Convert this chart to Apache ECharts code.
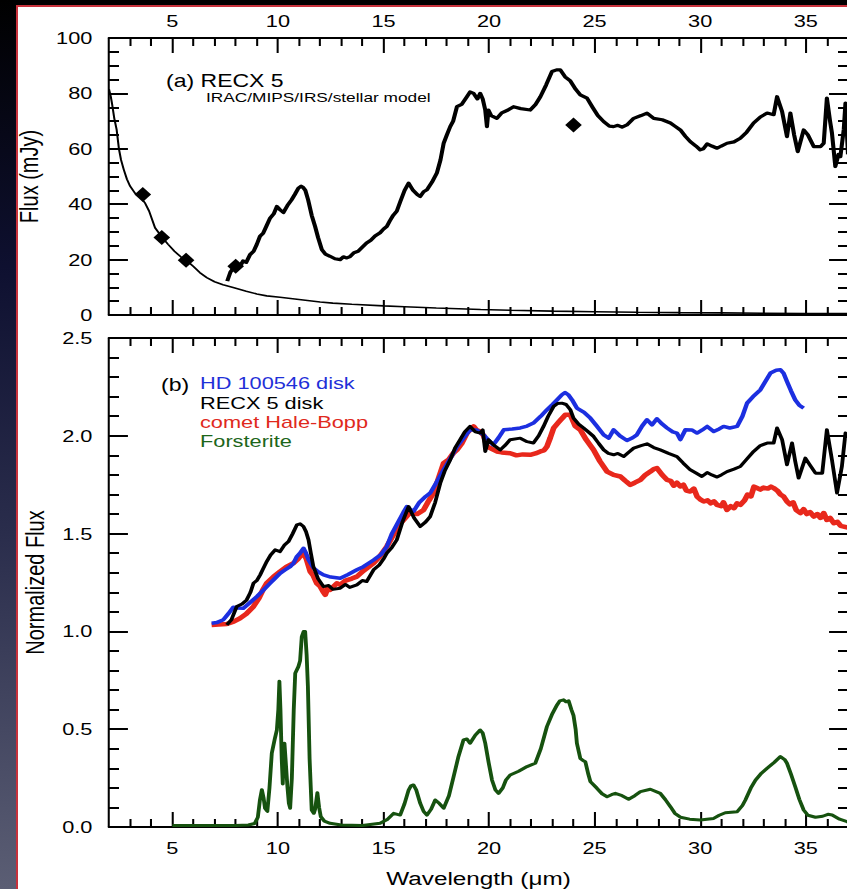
<!DOCTYPE html>
<html>
<head>
<meta charset="utf-8">
<script src="https://cdn.jsdelivr.net/npm/echarts@6.0.0/dist/echarts.min.js"></script>
<style>
html,body{margin:0;padding:0;background:#000;width:847px;height:889px;overflow:hidden;}
#strip{position:absolute;left:0;top:0;width:16px;height:889px;background:linear-gradient(to bottom,#000 0%,#0e1030 30%,#2a2d4c 60%,#5b5e74 100%);}
#panel{position:absolute;left:16px;top:5px;width:829px;height:882px;background:#fff;border-left:2px solid #c8323c;border-top:2px solid #c8323c;}
#chart{position:absolute;left:0;top:0;width:662px;height:889px;transform-origin:0 0;transform:scaleX(1.279456);}
</style>
</head>
<body>
<div id="strip"></div>
<div id="panel"></div>
<div id="chart"></div>
<script>
// ---- data (wavelength in micron) ----
const xMajorTicks = [5, 10, 15, 20, 25, 30, 35];
const xMinorTicks = [3, 4, 6, 7, 8, 9, 11, 12, 13, 14, 16, 17, 18, 19, 21, 22, 23, 24, 26, 27, 28, 29, 31, 32, 33, 34, 36];
const topYTicks = ['0', '20', '40', '60', '80', '100'];
const bottomYTicks = ['0.0', '0.5', '1.0', '1.5', '2.0', '2.5'];

const stellarModel = [[2.0,81.5],[2.08,79],[2.15,76],[2.25,71],[2.36,67],[2.47,60],[2.57,56],[2.7,52.5],[2.85,49],[3.0,46.5],[3.23,44],[3.5,42.5],[3.7,40.5],[3.9,37.5],[4.18,31.5],[4.5,28.2],[4.8,25.5],[5.1,23],[5.4,21],[5.65,19.8],[6.0,17.5],[6.3,15.3],[6.63,13.5],[7.0,12],[7.4,10.9],[7.88,9.9],[8.5,8.6],[9.0,7.6],[9.47,6.9],[10.1,6.4],[11,5.6],[12,4.7],[12.6,4.3],[13.5,3.9],[15,3.3],[16,3.0],[17.5,2.5],[19.6,2.0],[21,1.7],[23,1.4],[25,1.2],[27,1.0],[29,0.85],[31,0.75],[33,0.65],[35,0.55],[37,0.5]];

const recx5Flux = [[7.6,12.2],[7.75,15.5],[7.9,17],[8.05,18.2],[8.2,17.5],[8.35,19.5],[8.5,19],[8.68,21.8],[8.85,23],[9.0,25.5],[9.15,28.4],[9.3,29.5],[9.45,32],[9.63,35],[9.8,36.5],[9.95,39.2],[10.1,38],[10.26,37],[10.45,39.5],[10.65,41.6],[10.8,43.5],[10.97,45.8],[11.1,46.5],[11.2,46],[11.3,45],[11.43,41.6],[11.6,36],[11.76,32],[11.9,28],[12.08,23.6],[12.25,22],[12.47,21.2],[12.7,20.3],[12.95,20],[13.1,21],[13.26,20.6],[13.42,21.1],[13.6,22.5],[13.8,23],[14.04,24.8],[14.2,26],[14.4,27],[14.6,28.5],[14.84,29.7],[15.0,31],[15.16,32],[15.3,34],[15.46,36],[15.63,37.5],[15.8,41],[16.0,45],[16.19,47.6],[16.4,45],[16.6,43.5],[16.74,42.8],[16.9,44.5],[17.06,45.2],[17.3,48],[17.53,51.3],[17.7,56],[17.85,62],[18.0,65],[18.16,68],[18.3,70],[18.48,75.2],[18.7,76],[18.95,78.8],[19.1,80.5],[19.27,80],[19.45,78],[19.58,80],[19.7,78],[19.82,74],[19.9,68],[19.97,74],[20.1,72],[20.37,71],[20.6,73],[20.9,74],[21.16,75.2],[21.5,74.5],[21.95,74],[22.2,76],[22.43,78.8],[22.7,83],[22.98,87.9],[23.2,88.5],[23.37,88.5],[23.6,86],[23.85,84.5],[24.1,81.5],[24.32,79.5],[24.64,78.3],[24.9,75],[25.15,72],[25.43,69.8],[25.7,68.2],[25.9,68],[26.1,68.5],[26.3,67.8],[26.53,68.6],[26.85,71],[27.2,72],[27.48,72.9],[27.8,71],[28.2,70.5],[28.59,69.3],[28.8,68.2],[29.06,66.8],[29.3,64.5],[29.53,62.6],[29.8,61],[30.0,59.6],[30.15,60],[30.33,61.8],[30.55,61],[30.8,60.2],[31.0,61],[31.27,62],[31.6,62.5],[31.9,63.8],[32.2,66],[32.53,69.3],[32.85,71.5],[33.17,72.9],[33.48,72.3],[33.64,78.8],[33.88,73.4],[34.11,64.4],[34.27,72.9],[34.45,65],[34.62,59],[34.9,66.8],[35.1,65],[35.38,60.8],[35.7,60.8],[35.85,62],[36.0,78.3],[36.15,70],[36.24,65.7],[36.4,53.6],[36.55,58],[36.64,57.2],[36.8,67],[36.88,76.5],[37.0,58]];

const photometry = [[3.6,43.5],[4.5,28],[5.65,19.8],[8.0,17.6],[24.0,68.6]];

const hd100546Disk = [[6.86,1.042],[7.1,1.045],[7.42,1.06],[7.65,1.09],[7.89,1.124],[8.1,1.12],[8.36,1.118],[8.6,1.14],[9.0,1.178],[9.3,1.21],[9.63,1.246],[9.85,1.27],[10.1,1.297],[10.35,1.315],[10.58,1.331],[10.75,1.35],[10.9,1.383],[11.05,1.4],[11.21,1.425],[11.33,1.4],[11.45,1.366],[11.68,1.325],[11.9,1.305],[12.16,1.289],[12.5,1.278],[12.95,1.272],[13.3,1.29],[13.74,1.315],[14.05,1.331],[14.53,1.365],[14.9,1.395],[15.16,1.434],[15.4,1.5],[15.7,1.56],[15.95,1.61],[16.11,1.638],[16.25,1.625],[16.42,1.613],[16.7,1.66],[17.0,1.69],[17.21,1.707],[17.5,1.76],[17.85,1.826],[18.2,1.89],[18.48,1.945],[18.8,1.99],[19.1,2.031],[19.4,2.03],[19.74,2.005],[20.0,1.975],[20.2,1.954],[20.45,1.99],[20.7,2.031],[21.1,2.035],[21.48,2.04],[21.8,2.05],[22.1,2.065],[22.45,2.1],[22.74,2.133],[23.0,2.16],[23.22,2.184],[23.45,2.21],[23.6,2.221],[23.75,2.21],[23.93,2.184],[24.16,2.142],[24.5,2.12],[24.8,2.09],[25.1,2.05],[25.43,2.005],[25.67,1.988],[25.9,2.031],[26.2,2.0],[26.53,1.976],[26.8,1.99],[27.0,2.005],[27.25,2.05],[27.48,2.082],[27.72,2.056],[27.95,2.087],[28.2,2.06],[28.43,2.04],[28.7,2.02],[28.9,2.014],[29.06,1.98],[29.3,2.031],[29.6,2.03],[29.85,2.014],[30.1,2.03],[30.33,2.048],[30.64,2.022],[30.9,2.035],[31.11,2.048],[31.4,2.04],[31.75,2.048],[32.0,2.1],[32.22,2.167],[32.5,2.2],[32.85,2.235],[33.1,2.28],[33.33,2.321],[33.6,2.335],[33.8,2.338],[33.95,2.32],[34.11,2.278],[34.3,2.23],[34.5,2.184],[34.7,2.155],[34.9,2.142]];

const recx5Disk = [[7.58,1.033],[7.8,1.06],[8.05,1.127],[8.3,1.14],[8.52,1.161],[8.7,1.2],[8.84,1.246],[9.0,1.26],[9.16,1.289],[9.3,1.32],[9.47,1.357],[9.65,1.39],[9.87,1.417],[10.1,1.408],[10.3,1.44],[10.5,1.459],[10.7,1.5],[10.9,1.545],[11.05,1.55],[11.21,1.536],[11.33,1.51],[11.45,1.468],[11.56,1.4],[11.68,1.331],[11.9,1.27],[12.16,1.229],[12.4,1.235],[12.6,1.215],[12.95,1.221],[13.2,1.24],[13.4,1.225],[13.74,1.238],[14.0,1.26],[14.2,1.255],[14.53,1.315],[14.8,1.34],[15.0,1.37],[15.16,1.4],[15.4,1.43],[15.63,1.468],[15.9,1.56],[16.19,1.638],[16.45,1.58],[16.74,1.536],[17.0,1.56],[17.21,1.587],[17.45,1.66],[17.69,1.758],[17.9,1.82],[18.16,1.877],[18.4,1.94],[18.63,1.98],[18.85,2.02],[19.1,2.048],[19.35,2.02],[19.58,2.014],[19.7,2.03],[19.82,1.92],[19.97,1.98],[20.25,1.95],[20.53,1.928],[20.75,1.95],[21.0,1.98],[21.48,1.988],[21.8,1.97],[22.1,1.963],[22.35,2.0],[22.58,2.048],[22.8,2.1],[23.06,2.15],[23.25,2.165],[23.45,2.167],[23.65,2.16],[23.85,2.133],[24.0,2.09],[24.24,2.06],[24.48,2.04],[24.7,2.02],[24.95,1.997],[25.2,1.96],[25.43,1.928],[25.65,1.91],[25.9,1.903],[26.1,1.91],[26.38,1.894],[26.6,1.915],[26.85,1.937],[27.2,1.95],[27.48,1.959],[27.8,1.94],[28.11,1.928],[28.5,1.91],[28.9,1.894],[29.2,1.86],[29.53,1.826],[29.8,1.81],[30.08,1.792],[30.33,1.812],[30.55,1.8],[30.8,1.789],[31.0,1.8],[31.27,1.817],[31.6,1.83],[31.9,1.843],[32.2,1.88],[32.53,1.92],[32.85,1.95],[33.17,1.963],[33.48,1.963],[33.64,2.04],[33.88,1.98],[34.11,1.852],[34.35,1.963],[34.5,1.87],[34.66,1.784],[34.98,1.886],[35.2,1.85],[35.46,1.809],[35.78,1.809],[36.0,2.031],[36.24,1.877],[36.48,1.707],[36.71,1.843],[36.88,2.014],[37.0,1.99]];

const haleBopp = [[6.86,1.033],[7.2,1.035],[7.58,1.038],[7.9,1.05],[8.2,1.067],[8.5,1.09],[8.84,1.127],[9.1,1.17],[9.3,1.215],[9.47,1.246],[9.8,1.28],[10.1,1.306],[10.4,1.33],[10.74,1.349],[10.95,1.37],[11.1,1.39],[11.21,1.4],[11.35,1.37],[11.53,1.306],[11.68,1.285],[11.84,1.246],[12.0,1.23],[12.16,1.2],[12.24,1.187],[12.35,1.22],[12.47,1.212],[12.79,1.246],[12.95,1.238],[13.2,1.26],[13.5,1.27],[13.74,1.28],[14.05,1.31],[14.3,1.33],[14.53,1.349],[14.8,1.38],[15.16,1.434],[15.5,1.5],[15.7,1.54],[15.95,1.57],[16.2,1.6],[16.42,1.605],[16.6,1.6],[16.9,1.621],[17.1,1.66],[17.37,1.707],[17.6,1.78],[17.85,1.86],[18.1,1.88],[18.3,1.91],[18.48,1.928],[18.7,1.96],[18.95,2.014],[19.1,2.03],[19.27,2.048],[19.4,2.03],[19.58,2.022],[19.75,2.0],[19.9,1.945],[20.1,1.935],[20.37,1.92],[20.6,1.915],[21.0,1.911],[21.3,1.9],[21.6,1.905],[21.95,1.903],[22.2,1.91],[22.43,1.92],[22.6,1.925],[22.74,1.945],[22.9,1.99],[23.06,2.04],[23.3,2.07],[23.61,2.107],[23.85,2.107],[24.08,2.05],[24.32,2.031],[24.6,1.98],[24.95,1.928],[25.25,1.87],[25.59,1.817],[25.9,1.8],[26.22,1.792],[26.45,1.77],[26.69,1.749],[26.9,1.76],[27.17,1.775],[27.4,1.8],[27.64,1.817],[27.8,1.83],[27.95,1.835],[28.2,1.8],[28.43,1.775],[28.6,1.77],[28.75,1.745],[28.9,1.76],[29.06,1.741],[29.2,1.75],[29.35,1.72],[29.53,1.715],[29.7,1.73],[29.85,1.69],[30.0,1.675],[30.17,1.664],[30.35,1.67],[30.5,1.655],[30.65,1.665],[30.8,1.647],[31.0,1.64],[31.1,1.66],[31.27,1.621],[31.45,1.64],[31.6,1.63],[31.75,1.655],[31.9,1.647],[32.1,1.67],[32.25,1.7],[32.4,1.69],[32.55,1.74],[32.69,1.733],[32.85,1.725],[33.0,1.735],[33.2,1.73],[33.35,1.74],[33.48,1.733],[33.65,1.72],[33.8,1.7],[33.95,1.69],[34.11,1.664],[34.25,1.65],[34.4,1.66],[34.55,1.62],[34.75,1.605],[34.9,1.625],[35.05,1.6],[35.2,1.61],[35.38,1.587],[35.55,1.6],[35.7,1.58],[35.85,1.605],[36.0,1.57],[36.15,1.58],[36.33,1.553],[36.5,1.56],[36.65,1.54],[36.8,1.536],[37.0,1.53]];

const forsterite = [[5.0,0.008],[6,0.008],[7,0.008],[8,0.008],[8.6,0.01],[8.9,0.018],[9.05,0.05],[9.15,0.14],[9.24,0.19],[9.32,0.15],[9.39,0.096],[9.5,0.08],[9.6,0.2],[9.71,0.377],[9.85,0.45],[9.95,0.496],[10.02,0.6],[10.07,0.745],[10.12,0.6],[10.18,0.35],[10.23,0.22],[10.28,0.38],[10.31,0.428],[10.36,0.35],[10.45,0.206],[10.52,0.12],[10.58,0.096],[10.66,0.25],[10.75,0.6],[10.82,0.786],[10.97,0.82],[11.05,0.85],[11.13,0.973],[11.22,1.0],[11.29,0.999],[11.36,0.88],[11.42,0.718],[11.5,0.35],[11.6,0.087],[11.7,0.07],[11.76,0.09],[11.87,0.175],[11.95,0.1],[12.03,0.053],[12.2,0.03],[12.47,0.019],[13,0.01],[14,0.008],[14.84,0.019],[15.2,0.04],[15.48,0.07],[15.79,0.061],[16.0,0.12],[16.19,0.189],[16.3,0.21],[16.42,0.215],[16.55,0.19],[16.74,0.121],[16.9,0.08],[17.06,0.061],[17.25,0.09],[17.45,0.138],[17.65,0.12],[17.85,0.096],[18.1,0.16],[18.32,0.257],[18.55,0.36],[18.79,0.445],[18.95,0.45],[19.1,0.428],[19.35,0.47],[19.58,0.496],[19.7,0.48],[19.82,0.428],[19.98,0.33],[20.14,0.24],[20.3,0.19],[20.45,0.172],[20.65,0.2],[20.8,0.24],[21.0,0.266],[21.4,0.285],[21.8,0.309],[22.19,0.326],[22.45,0.4],[22.74,0.513],[23.0,0.58],[23.22,0.624],[23.35,0.645],[23.53,0.65],[23.65,0.64],[23.77,0.645],[23.9,0.6],[24.0,0.57],[24.1,0.5],[24.16,0.428],[24.32,0.351],[24.45,0.34],[24.56,0.334],[24.7,0.27],[24.8,0.232],[25.11,0.198],[25.35,0.17],[25.59,0.155],[25.8,0.165],[25.98,0.172],[26.3,0.16],[26.61,0.142],[26.9,0.16],[27.17,0.181],[27.64,0.193],[28.11,0.172],[28.35,0.14],[28.59,0.104],[28.8,0.07],[29.06,0.05],[29.5,0.04],[30.0,0.036],[30.64,0.044],[30.9,0.06],[31.19,0.073],[31.75,0.078],[32.0,0.11],[32.14,0.138],[32.4,0.2],[32.62,0.24],[32.9,0.275],[33.17,0.3],[33.5,0.33],[33.8,0.36],[34.0,0.345],[34.11,0.326],[34.3,0.27],[34.5,0.206],[34.7,0.14],[34.9,0.087],[35.1,0.06],[35.46,0.05],[35.8,0.055],[36.05,0.065],[36.25,0.061],[36.6,0.04],[36.96,0.027],[37.0,0.025]];

// ---- layout helpers ----
const S = 847 / 662;             // horizontal stretch of the original figure
const FONT = '"Liberation Sans", Arial, Helvetica, sans-serif';
const GL = 109 / S, GW = 739 / S;

function xAx(grid, pos, major, labels, name) {
  return {
    type: 'value', gridIndex: grid, position: pos, min: 2, max: 37,
    axisLine: { show: major, onZero: false, lineStyle: { color: '#000', width: 2 } },
    axisTick: { show: true, inside: true, length: major ? 15 : 8,
      customValues: major ? xMajorTicks : xMinorTicks,
      lineStyle: { color: '#000', width: 1.6 } },
    axisLabel: { show: labels, customValues: xMajorTicks, margin: pos === 'top' ? 9 : 12,
      color: '#000', fontSize: 17, fontFamily: FONT },
    splitLine: { show: false },
    name: name || '', nameLocation: 'middle', nameGap: 42,
    nameTextStyle: { color: '#000', fontSize: 19, fontFamily: FONT }
  };
}
function yAx(grid, pos, max, interval, minorSplit, labels, ticks, name) {
  return {
    type: 'value', gridIndex: grid, position: pos, min: 0, max: max, interval: interval,
    axisLine: { show: true, onZero: false, lineStyle: { color: '#000', width: 1.6 } },
    axisTick: { show: true, inside: true, length: 14.8, lineStyle: { color: '#000', width: 2 } },
    minorTick: { show: true, splitNumber: minorSplit, length: 7.8, lineStyle: { color: '#000', width: 2 } },
    axisLabel: { show: labels, margin: 13, color: '#000', fontSize: 17, fontFamily: FONT,
      formatter: function (v) { return ticks[Math.round(v / interval)]; } },
    splitLine: { show: false }, minorSplitLine: { show: false },
    name: name || '', nameLocation: 'middle', nameGap: 48,
    nameTextStyle: { color: '#000', fontSize: 20, fontFamily: FONT }
  };
}
function txt(x, y, text, size, color) {
  return { type: 'text', x: x / S, y: y, silent: true,
    style: { text: text, fill: color, font: size + 'px ' + FONT,
      verticalAlign: 'middle', textVerticalAlign: 'middle', align: 'left', textAlign: 'left' } };
}

const chart = echarts.init(document.getElementById('chart'), null, { renderer: 'svg' });
chart.setOption({
  animation: false,
  backgroundColor: 'transparent',
  grid: [
    { left: GL, top: 38, width: GW, height: 277, containLabel: false, outerBoundsMode: 'none' },
    { left: GL, top: 338, width: GW, height: 489, containLabel: false, outerBoundsMode: 'none' }
  ],
  xAxis: [
    xAx(0, 'top', true, true),
    xAx(0, 'top', false, false),
    xAx(0, 'bottom', true, false),
    xAx(0, 'bottom', false, false),
    xAx(1, 'bottom', true, true, 'Wavelength (\u03bcm)'),
    xAx(1, 'bottom', false, false),
    xAx(1, 'top', true, false),
    xAx(1, 'top', false, false)
  ],
  yAxis: [
    yAx(0, 'left', 100, 20, 4, true, topYTicks, 'Flux (mJy)'),
    yAx(0, 'right', 100, 20, 4, false, topYTicks),
    yAx(1, 'left', 2.5, 0.5, 5, true, bottomYTicks, 'Normalized Flux'),
    yAx(1, 'right', 2.5, 0.5, 5, false, bottomYTicks)
  ],
  series: [
    { type: 'line', name: 'stellar model', xAxisIndex: 0, yAxisIndex: 0, data: stellarModel,
      symbol: 'none', lineStyle: { color: '#000', width: 1.6 }, z: 2 },
    { type: 'line', name: 'RECX 5 IRS', xAxisIndex: 0, yAxisIndex: 0, data: recx5Flux,
      symbol: 'none', lineStyle: { color: '#000', width: 3.2, join: 'round' }, z: 3 },
    { type: 'scatter', name: 'IRAC/MIPS', xAxisIndex: 0, yAxisIndex: 0, data: photometry,
      symbol: 'diamond', symbolSize: [13, 15], itemStyle: { color: '#000', opacity: 1 }, z: 4 },
    { type: 'line', name: 'comet Hale-Bopp', xAxisIndex: 4, yAxisIndex: 2, data: haleBopp,
      symbol: 'none', lineStyle: { color: '#e8281c', width: 4.5, join: 'round' }, z: 2 },
    { type: 'line', name: 'HD 100546 disk', xAxisIndex: 4, yAxisIndex: 2, data: hd100546Disk,
      symbol: 'none', lineStyle: { color: '#1c2fe0', width: 3.5, join: 'round' }, z: 3 },
    { type: 'line', name: 'RECX 5 disk', xAxisIndex: 4, yAxisIndex: 2, data: recx5Disk,
      symbol: 'none', lineStyle: { color: '#000', width: 3, join: 'round' }, z: 4 },
    { type: 'line', name: 'Forsterite', xAxisIndex: 4, yAxisIndex: 2, data: forsterite,
      symbol: 'none', lineStyle: { color: '#16520f', width: 3, join: 'round' }, z: 4 }
  ],
  graphic: [
    txt(166, 80, '(a) RECX 5', 18, '#000'),
    txt(206, 97, 'IRAC/MIPS/IRS/stellar model', 13.5, '#000'),
    txt(161, 384, '(b)', 18, '#000'),
    txt(200, 383, 'HD 100546 disk', 17, '#1f30d8'),
    txt(200, 403, 'RECX 5 disk', 17, '#000'),
    txt(200, 422, 'comet Hale-Bopp', 17, '#e0291c'),
    txt(200, 441, 'Forsterite', 17, '#1d661a')
  ]
});
</script>
</body>
</html>
